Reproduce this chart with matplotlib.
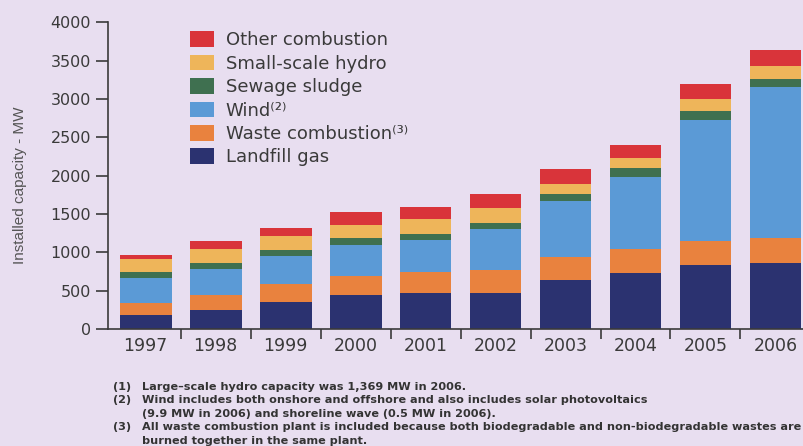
import numpy as np
import matplotlib.pyplot as plt
from matplotlib.patches import Patch

years = ['1997', '1998', '1999', '2000', '2001', '2002', '2003', '2004', '2005', '2006']

# installed capacity by source, MW
landfill = [182, 247, 355, 442, 476, 476, 636, 732, 831, 861]
waste = [160, 204, 229, 251, 268, 290, 303, 316, 316, 325]
wind = [324, 337, 364, 407, 412, 533, 736, 930, 1576, 1970]
sewage = [78, 73, 78, 82, 82, 86, 87, 117, 121, 108]
hydro = [165, 182, 182, 182, 195, 195, 130, 134, 152, 165]
other = [61, 104, 113, 168, 156, 182, 195, 174, 195, 216]

series = [landfill, waste, wind, sewage, hydro, other]
names = ['Landfill gas', 'Waste combustion\u207d\u00b3\u207e', 'Wind\u207d\u00b2\u207e',
         'Sewage sludge', 'Small-scale hydro', 'Other combustion']
colors = ['#2b3270', '#e9823e', '#5b9ad6', '#3f7050', '#eeb55a', '#d9343a']

notes = [
    ('(1)', 'Large\u2013scale hydro capacity was 1,369 MW in 2006.'),
    ('(2)', 'Wind includes both onshore and offshore and also includes solar photovoltaics'),
    ('', '(9.9 MW in 2006) and shoreline wave (0.5 MW in 2006).'),
    ('(3)', 'All waste combustion plant is included because both biodegradable and non-biodegradable wastes are'),
    ('', 'burned together in the same plant.'),
]

bg = '#e8def0'
ink = '#3a3a3a'

fig = plt.figure(figsize=(8.04, 4.46), dpi=100, facecolor=bg)
ax = fig.add_axes([0.134, 0.262, 0.874, 0.688], facecolor=bg)

x = np.arange(len(years))
bottom = np.zeros(len(years))
for vals, c in zip(series, colors):
    ax.bar(x, vals, width=0.74, bottom=bottom, color=c, edgecolor='none')
    bottom += np.array(vals)

ax.set_xlim(-0.543, 9.5)
ax.set_ylim(0, 4000)
ax.set_yticks(np.arange(0, 4001, 500))
ax.set_yticklabels([str(v) for v in range(0, 4001, 500)])
ax.tick_params(axis='y', direction='out', length=9, width=1.2, color=ink,
               labelsize=11.5, labelcolor=ink, pad=3)

ax.set_xticks(x)
ax.set_xticklabels(years)
ax.set_xticks(np.arange(0.5, 9.5, 1), minor=True)
ax.tick_params(axis='x', which='major', length=0, labelsize=12.5, labelcolor=ink, pad=6)
ax.tick_params(axis='x', which='minor', direction='out', length=7, width=1.2, color=ink)

for s in ['top', 'right']:
    ax.spines[s].set_visible(False)
for s in ['left', 'bottom']:
    ax.spines[s].set_color(ink)
    ax.spines[s].set_linewidth(1.2)

ax.set_ylabel('Installed capacity - MW', fontsize=11, color='#555555',
              family='Liberation Sans')
ax.yaxis.set_label_coords(-0.115, 0.47)

handles = [Patch(facecolor=c, edgecolor='none') for c in colors][::-1]
leg = fig.legend(handles, names[::-1], loc='upper left',
                 bbox_to_anchor=(0.2275, 0.946), frameon=False,
                 fontsize=13, handlelength=1.33, handleheight=0.95,
                 handletextpad=0.65, labelspacing=0.3, borderaxespad=0)
for t in leg.get_texts():
    t.set_color(ink)

y0 = 446 - 387
for i, (num, txt) in enumerate(notes):
    yy = (y0 - i * 13.4) / 446
    if num:
        fig.text(113 / 804, yy, num, fontsize=8.1, color='#333333',
                 weight='bold', va='center')
    fig.text(142 / 804, yy, txt, fontsize=8.1, color='#333333',
             weight='bold', va='center')

fig.savefig('out.png', dpi=100, facecolor=bg)
